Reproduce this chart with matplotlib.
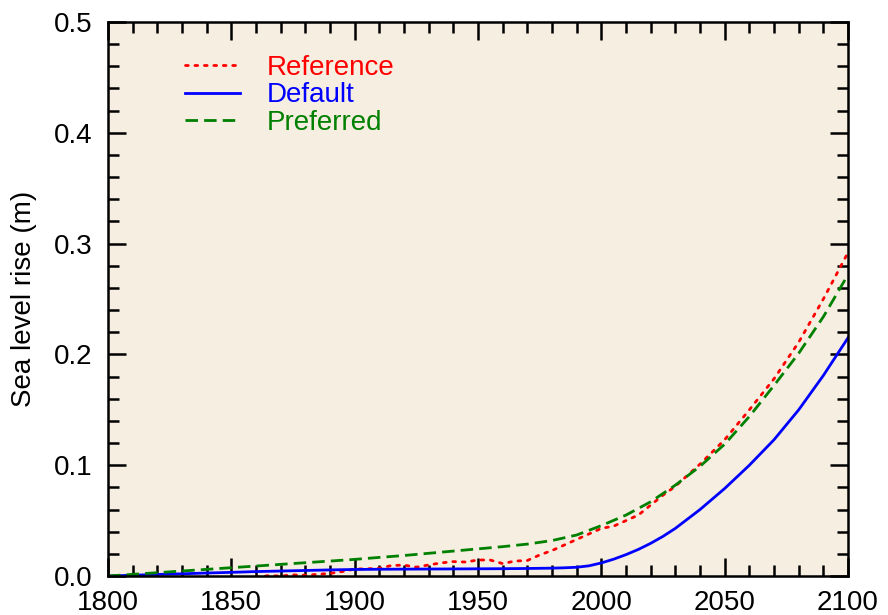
import matplotlib
matplotlib.use('Agg')
import matplotlib.pyplot as plt
from matplotlib.ticker import MultipleLocator, FormatStrFormatter

plt.rcParams['font.family'] = ['Liberation Sans', 'DejaVu Sans']

# Default run
years_default = [1800, 1810, 1820, 1830, 1840, 1850, 1860, 1870, 1880, 1890,
                 1900, 1910, 1920, 1930, 1940, 1950, 1960, 1970, 1980, 1985, 1990,
                 1995, 2000, 2005, 2010, 2015, 2020, 2025, 2030, 2040, 2050, 2060,
                 2070, 2080, 2090, 2100]
rise_default = [0.0, 0.0007, 0.0014, 0.002, 0.0027, 0.0033, 0.004, 0.0045, 0.005, 0.0055,
                0.0059, 0.0061, 0.0062, 0.0063, 0.0064, 0.0065, 0.0066, 0.0068, 0.0071, 0.0074, 0.0079,
                0.0092, 0.0118, 0.0152, 0.0193, 0.024, 0.0295, 0.0358, 0.043, 0.060, 0.079, 0.100,
                0.123, 0.150, 0.181, 0.215]

# Preferred run
years_pref = [1800, 1810, 1820, 1830, 1840, 1850, 1860, 1870, 1880, 1890,
              1900, 1910, 1920, 1930, 1940, 1950, 1960, 1970, 1980, 1990,
              2000, 2010, 2020, 2030, 2040, 2050, 2060, 2070, 2080, 2090, 2100]
rise_pref = [0.0, 0.0015, 0.003, 0.0045, 0.006, 0.0075, 0.009, 0.0105, 0.012, 0.0135,
             0.015, 0.0168, 0.0185, 0.0205, 0.0225, 0.0245, 0.0265, 0.0288, 0.032, 0.037,
             0.0455, 0.055, 0.067, 0.082, 0.099, 0.119, 0.144, 0.172, 0.201, 0.234, 0.272]

# Reference series (starts 1860)
years_ref = [1860, 1865, 1870, 1875, 1880, 1885, 1890, 1895, 1900, 1905,
             1910, 1915, 1920, 1925, 1930, 1935, 1940, 1945, 1950, 1955,
             1960, 1965, 1970, 1975, 1980, 1985, 1990, 1995, 2000, 2005,
             2010, 2015, 2020, 2025, 2030, 2040, 2050, 2060, 2070, 2080, 2090, 2100]
rise_ref = [-0.001, 0.0003, 0.0, 0.001, 0.0007, 0.0015, 0.0024, 0.004, 0.0063, 0.0065,
            0.007, 0.0095, 0.0098, 0.008, 0.010, 0.0118, 0.013, 0.0126, 0.0145, 0.0144,
            0.0112, 0.0135, 0.014, 0.019, 0.023, 0.028, 0.033, 0.038, 0.043, 0.045,
            0.050, 0.055, 0.064, 0.073, 0.081, 0.101, 0.123, 0.150, 0.178, 0.211, 0.250, 0.292]

fig = plt.figure(figsize=(8.88, 6.15), dpi=100)
ax = fig.add_axes([0.1216, 0.0634, 0.8334, 0.9008])
ax.set_facecolor('#f6eee0')

ax.plot(years_ref, rise_ref, color='red', linestyle=(0, (1, 2.4)), linewidth=2,
        dash_capstyle='round', label='Reference')
ax.plot(years_default, rise_default, color='blue', linewidth=2, label='Default')
ax.plot(years_pref, rise_pref, color='green', linestyle=(0, (4.5, 2.2)), linewidth=2,
        label='Preferred')

ax.set_xlim(1800, 2100)
ax.set_ylim(0, 0.5)
ax.xaxis.set_major_locator(MultipleLocator(50))
ax.xaxis.set_minor_locator(MultipleLocator(10))
ax.yaxis.set_major_locator(MultipleLocator(0.1))
ax.yaxis.set_minor_locator(MultipleLocator(0.02))
ax.yaxis.set_major_formatter(FormatStrFormatter('%.1f'))

ax.tick_params(which='both', direction='in', top=True, right=True, width=1.8,
               labelsize=20)
ax.tick_params(which='major', length=13)
ax.tick_params(which='minor', length=8)
ax.tick_params(axis='y', pad=11)
ax.tick_params(axis='x', pad=10)
for s in ax.spines.values():
    s.set_linewidth(1.8)

ax.set_ylabel('Sea level rise (m)', fontsize=20, labelpad=12)

leg = ax.legend(loc='upper left', bbox_to_anchor=(0.085, 0.966), frameon=False,
                fontsize=20, handlelength=2.0, handletextpad=0.95,
                labelspacing=0.06, borderpad=0, labelcolor='linecolor')

fig.savefig('out.png', dpi=100)
